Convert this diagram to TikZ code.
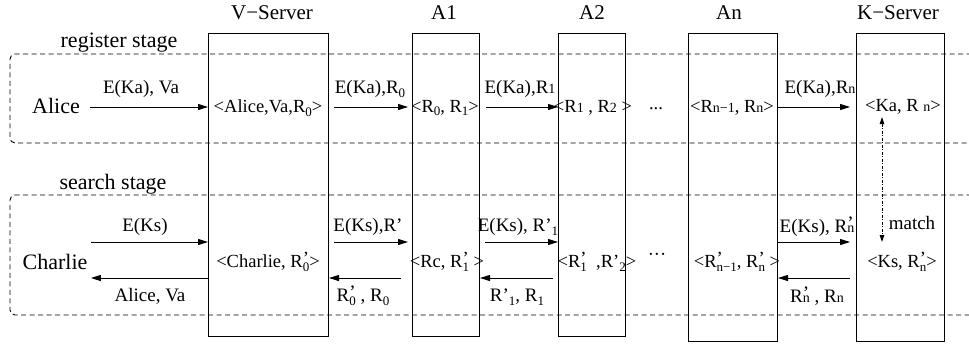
\documentclass[tikz,border=0pt]{standalone}
\usepackage{fontspec}
\setmainfont{Liberation Serif}
\usetikzlibrary{arrows.meta}
\newcommand\Rs[1]{R\raisebox{-0.45ex}{\fontsize{13}{13}\selectfont #1}}
\newcommand\Rb[1]{R{\fontsize{14}{14}\selectfont #1}}
\newcommand\Rp[1]{R\rlap{\raisebox{0.35ex}{’}}\raisebox{-0.45ex}{\fontsize{13}{13}\selectfont #1}}
\newcommand\Rpb[1]{R\rlap{\raisebox{0.35ex}{’}}{\fontsize{14}{14}\selectfont #1}}
\begin{document}
\begin{tikzpicture}[x=1pt,y=-1pt,
  col/.style={draw, line width=1pt, anchor=north west, inner sep=0pt},
  stage/.style={draw, line width=0.9pt, dash pattern=on 5pt off 3.5pt, rounded corners=5pt},
  arr/.style={draw, line width=1pt, -{Triangle[length=10pt,width=6pt]}},
  dda/.style={draw, line width=0.9pt, dash pattern=on 3pt off 1.5pt on 1pt off 1.5pt, {Triangle[length=7pt,width=4.5pt]}-{Triangle[length=7pt,width=4.5pt]}},
  ttl/.style={font=\fontsize{21}{24}\selectfont},
  big/.style={font=\fontsize{22}{25}\selectfont},
  lab/.style={font=\fontsize{19}{22}\selectfont, inner sep=0pt},
  cnt/.style={font=\fontsize{18.5}{21}\selectfont, inner sep=0pt}]
\useasboundingbox (0,0) rectangle (969,346);

% stage frames
\draw[stage] (980,54) -- (10,54) -- (10,143) -- (980,143);
\draw[stage] (980,195) -- (10,195) -- (10,315) -- (980,315);
\node[big] (reg) at (119,43) {register stage};
\node[big] (sea) at (113,184) {search stage};

% columns
\node[col, minimum width=120pt, minimum height=303pt] (vs) at (208,33) {};
\node[col, minimum width=67pt, minimum height=303pt] (a1) at (412,33) {};
\node[col, minimum width=67pt, minimum height=303pt] (a2) at (558,33) {};
\node[col, minimum width=89pt, minimum height=308pt] (an) at (688,33) {};
\node[col, minimum width=88pt, minimum height=308pt] (ks) at (856,33) {};

% titles
\node[ttl] (tvs) at (272,13) {V−Server};
\node[ttl] (ta1) at (444,13) {A1};
\node[ttl] (ta2) at (592,13) {A2};
\node[ttl] (tan) at (729,13) {An};
\node[ttl] (tks) at (898,13) {K−Server};

% row coordinates
\coordinate (ry) at (0,107);
\coordinate (sy1) at (0,242);
\coordinate (sy2) at (0,278);

% register stage
\node[big] (alice) at (56,106) {Alice};
\node[cnt] (c1) at (268,108) {<Alice,Va,\Rs{0}>};
\node[cnt] (c2) at (445,108) {<\Rs{0}, \Rs{1}>};
\node[cnt] (c3) at (593,108) {<\Rb{1} , \Rb{2} >};
\node[cnt] (d1) at (656,109) {...};
\node[cnt] (c4) at (732,108) {<\Rb{n−1}, \Rb{n}>};
\node[cnt] (c5) at (903,107) {<Ka, R {\fontsize{14}{14}\selectfont n}>};

\draw[arr] ([xshift=7pt]alice.east |- ry) -- (vs.west |- ry);
\draw[arr] ([xshift=5pt]vs.east |- ry) -- ([xshift=-4pt]a1.west |- ry);
\draw[arr] ([xshift=6pt]a1.east |- ry) -- (a2.west |- ry);
\draw[arr] (an.east |- ry) -- ([xshift=-6pt]ks.west |- ry);

\node[lab] (l1) at (141,89) {E(Ka), Va};
\node[lab] (l2) at (370,89) {E(Ka),\Rs{0}};
\node[lab] (l3) at (520,89) {E(Ka),\Rb{1}};
\node[lab] (l4) at (820,89) {E(Ka),\Rb{n}};

% search stage
\node[big] (charlie) at (55,262) {Charlie};
\node[cnt] (s1) at (268,262) {<Charlie, \Rp{0}>};
\node[cnt] (s2) at (447,262) {<Rc, \Rp{1} >};
\node[cnt] (s3) at (597,262) {<\Rp{1}\ \ ,R’\raisebox{-0.45ex}{\fontsize{13}{13}\selectfont 2}>};
\node[cnt] (d2) at (657,257) {···};
\node[cnt] (s4) at (737,262) {<\Rp{n−1}, \Rp{n} >};
\node[cnt] (s5) at (902,262) {<Ks, \Rp{n}>};

\draw[arr] (charlie.east |- sy1) -- (vs.west |- sy1);
\draw[arr] (vs.west |- sy2) -- (charlie.east |- sy2);
\draw[arr] ([xshift=5pt]vs.east |- sy1) -- ([xshift=-4pt]a1.west |- sy1);
\draw[arr] ([xshift=-11pt]a1.west |- sy2) -- (vs.east |- sy2);
\draw[arr] ([xshift=5pt]a1.east |- sy1) -- (a2.west |- sy1);
\draw[arr] ([xshift=-5pt]a2.west |- sy2) -- (a1.east |- sy2);
\draw[arr] (an.east |- sy1) -- ([xshift=-6pt]ks.west |- sy1);
\draw[arr] ([xshift=-6pt]ks.west |- sy2) -- (an.east |- sy2);

\node[lab] (m1) at (145,227) {E(Ks)};
\node[lab] (m2) at (150,296) {Alice, Va};
\node[lab] (m3) at (368,227) {E(Ks),R’};
\node[lab] (m4) at (363,296) {\Rp{0} , \Rs{0}};
\node[lab] (m5) at (518,227) {E(Ks), R’\raisebox{-0.45ex}{\fontsize{13}{13}\selectfont 1}};
\node[lab] (m6) at (517,297) {R’\raisebox{-0.45ex}{\fontsize{13}{13}\selectfont 1}, \Rs{1}};
\node[lab] (m7) at (817,227) {E(Ks), \Rpb{n}};
\node[lab] (m8) at (817,296) {\Rpb{n} , \Rb{n}};

% match
\coordinate (mt) at (882,117);
\coordinate (mb) at (882,242);
\draw[dda] (mt) -- (mb);
\node[lab] (match) at (912,223) {match};
\end{tikzpicture}
\end{document}
